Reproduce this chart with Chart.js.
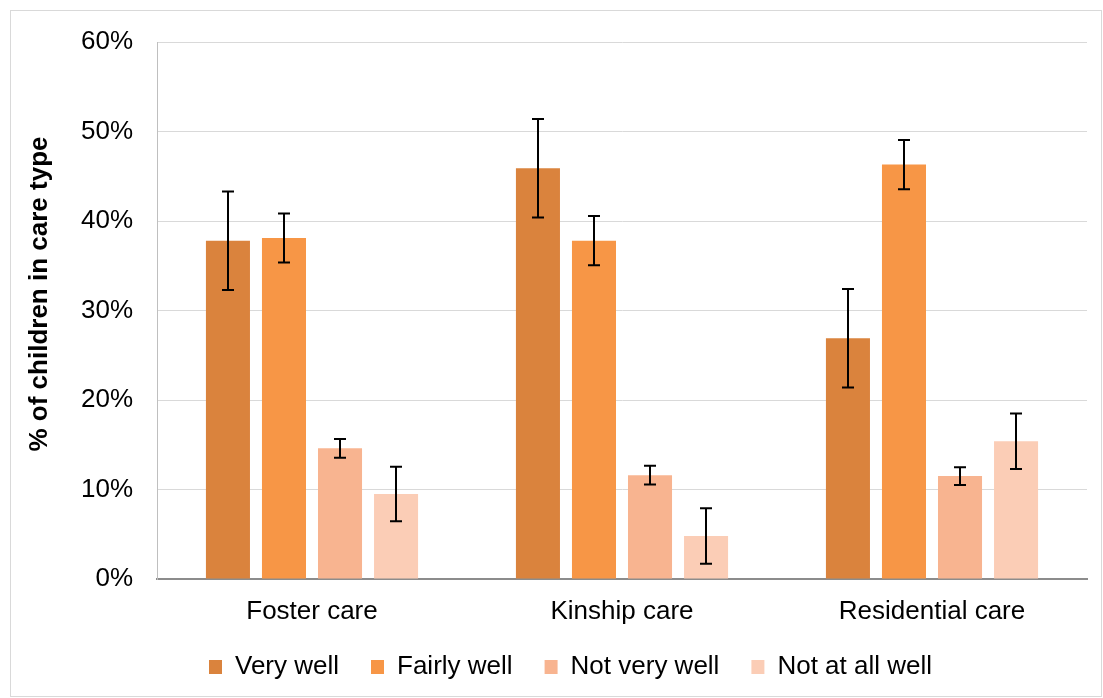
<!DOCTYPE html>
<html>
<head>
<meta charset="utf-8">
<script src="https://cdn.jsdelivr.net/npm/chart.js@4/dist/chart.umd.min.js"></script>
<style>
  html, body { margin: 0; padding: 0; background: #fff; }
  #wrap { width: 1103px; height: 698px; position: relative; }
</style>
</head>
<body>
<div id="wrap"><canvas id="c" width="1103" height="698"></canvas></div>
<script>
const categories = ['Foster care', 'Kinship care', 'Residential care'];
const seriesNames = ['Very well', 'Fairly well', 'Not very well', 'Not at all well'];
const veryWell = [37.8, 45.9, 26.9];
const fairlyWell = [38.1, 37.8, 46.3];
const notVeryWell = [14.6, 11.6, 11.5];
const notAtAllWell = [9.5, 4.8, 15.4];
const veryWellErr = [5.5, 5.5, 5.5];
const fairlyWellErr = [2.75, 2.75, 2.75];
const notVeryWellErr = [1.05, 1.05, 1.0];
const notAtAllWellErr = [3.05, 3.1, 3.1];
const yTicks = [0, 10, 20, 30, 40, 50, 60];
const yTitle = '% of children in care type';

const colors = ['#DA833D', '#F79646', '#F8B490', '#FBCDB6'];
const values = [veryWell, fairlyWell, notVeryWell, notAtAllWell];
const errors = [veryWellErr, fairlyWellErr, notVeryWellErr, notAtAllWellErr];

const FONT = 'Liberation Sans, Arial, sans-serif';

const frame = {
  id: 'frame',
  afterLayout(chart) {
    if (chart.legend) { chart.legend.left += 17; chart.legend.right += 17; }
    const x = chart.scales.x;
    x.bottom += 30;
  },
  beforeDraw(chart) {
    const ctx = chart.ctx;
    ctx.save();
    ctx.fillStyle = '#fff';
    ctx.fillRect(0, 0, chart.width, chart.height);
    ctx.strokeStyle = '#d9d9d9';
    ctx.lineWidth = 1;
    ctx.strokeRect(10.5, 10.5, 1091, 686);
    ctx.restore();
  },
  afterDraw(chart) {
    const ctx = chart.ctx;
    ctx.save();
    ctx.translate(40, 294);
    ctx.rotate(-Math.PI / 2);
    ctx.fillStyle = '#000';
    ctx.font = 'bold 26px ' + FONT;
    ctx.textAlign = 'center';
    ctx.textBaseline = 'middle';
    ctx.fillText(yTitle, 0, 0);
    ctx.restore();
  }
};

const errorBars = {
  id: 'errorBars',
  afterDatasetsDraw(chart) {
    const ctx = chart.ctx;
    const y = chart.scales.y;
    ctx.save();
    ctx.strokeStyle = '#000';
    ctx.lineWidth = 2;
    chart.data.datasets.forEach((ds, di) => {
      const meta = chart.getDatasetMeta(di);
      meta.data.forEach((bar, i) => {
        const v = ds.data[i], e = ds.errors[i];
        const x = Math.round(bar.x);
        const yt = y.getPixelForValue(v + e);
        const yb = y.getPixelForValue(v - e);
        ctx.beginPath();
        ctx.moveTo(x, yt); ctx.lineTo(x, yb);
        ctx.moveTo(x - 6, yt); ctx.lineTo(x + 6, yt);
        ctx.moveTo(x - 6, yb); ctx.lineTo(x + 6, yb);
        ctx.stroke();
      });
    });
    ctx.restore();
  }
};

new Chart(document.getElementById('c'), {
  type: 'bar',
  data: {
    labels: categories,
    datasets: seriesNames.map((n, i) => ({
      label: n,
      data: values[i],
      errors: errors[i],
      backgroundColor: colors[i],
      borderWidth: 0,
      categoryPercentage: 0.723,
      barPercentage: 0.786
    }))
  },
  options: {
    responsive: false,
    animation: false,
    devicePixelRatio: 1,
    layout: { padding: { top: 42, left: 20, right: 16, bottom: 8 } },
    plugins: {
      legend: {
        position: 'bottom',
        labels: {
          boxWidth: 13, boxHeight: 14, padding: 32,
          color: '#000',
          font: { family: FONT, size: 26 }
        }
      },
      tooltip: { enabled: false }
    },
    scales: {
      x: {
        grid: { display: false },
        border: { color: '#8c8c8c', width: 2 },
        ticks: { color: '#000', padding: 9, font: { family: FONT, size: 26 } },
        afterFit(s) { s.height = 43; }
      },
      y: {
        min: 0, max: 60,
        afterBuildTicks(s) { s.ticks = yTicks.map(v => ({ value: v })); },
        grid: { color: '#d9d9d9', lineWidth: 1, drawTicks: false },
        border: { color: '#bfbfbf', width: 1 },
        ticks: {
          color: '#000', padding: 24,
          font: { family: FONT, size: 26 },
          callback: v => v + '%'
        },
        afterFit(s) { s.width = 137; }
      }
    }
  },
  plugins: [frame, errorBars]
});
</script>
</body>
</html>
